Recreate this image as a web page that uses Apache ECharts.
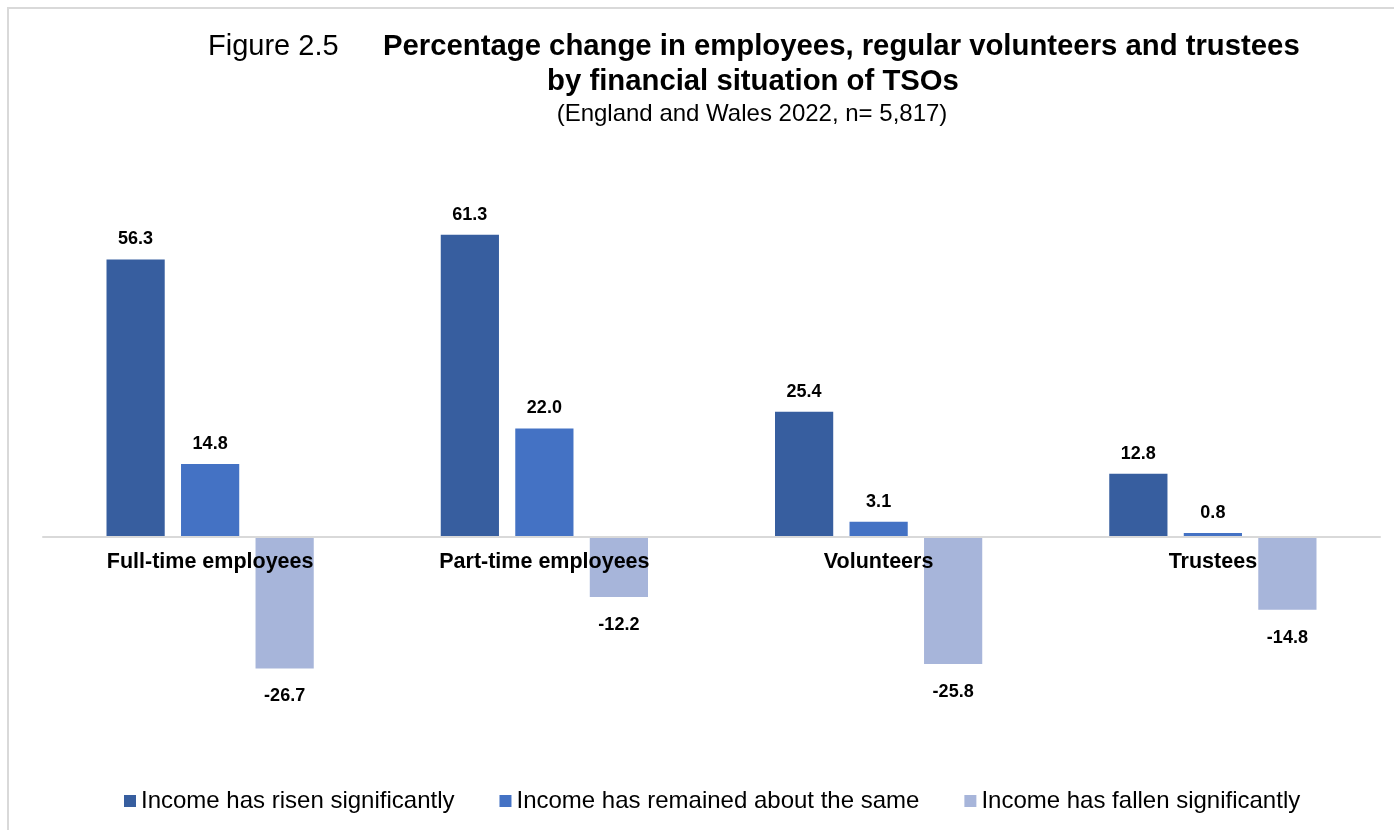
<!DOCTYPE html>
<html>
<head>
<meta charset="utf-8">
<title>Figure 2.5</title>
<script src="https://cdn.jsdelivr.net/npm/echarts@6/dist/echarts.min.js"></script>
<style>
	html, body { margin: 0; padding: 0; background: #fff; }
	#chart { width: 1394px; height: 830px; }
</style>
</head>
<body>
<div id="chart"></div>
<script>
	// data
	const categories = ['Full-time employees', 'Part-time employees', 'Volunteers', 'Trustees']
	const seriesNames = ['Income has risen significantly', 'Income has remained about the same', 'Income has fallen significantly']
	const risen = [56.3, 61.3, 25.4, 12.8]
	const same = [14.8, 22.0, 3.1, 0.8]
	const fallen = [-26.7, -12.2, -25.8, -14.8]
	const colors = ['#375E9F', '#4472C4', '#A7B5DA']

	const font = '"Liberation Sans", Arial, sans-serif'

	// put label above positive bars, below negative ones
	const toItems = (arr) => arr.map((v) => ({
		value: v,
		label: v < 0 ? { position: 'bottom', distance: 19 } : { position: 'top', distance: 11 }
	}))

	const makeSeries = (name, arr, i) => ({
		name: name,
		type: 'bar',
		data: toItems(arr),
		barCategoryGap: '38%',
		barGap: '28%',
		itemStyle: { color: colors[i] },
		label: {
			show: true,
			formatter: (p) => p.value.toFixed(1),
			fontFamily: font,
			fontWeight: 'bold',
			fontSize: 18,
			color: '#000'
		}
	})

	const myChart = echarts.init(document.getElementById('chart'), null, { renderer: 'canvas' })
	const option = {
		animation: false,
		backgroundColor: '#fff',
		color: colors,
		graphic: [
			{
				type: 'rect',
				shape: { x: 8, y: 8, width: 1400, height: 840 },
				style: { fill: 'none', stroke: '#d9d9d9', lineWidth: 2 },
				silent: true
			}
		],
		title: [
			{
				text: 'Figure 2.5',
				left: 203,
				top: 27,
				textStyle: { fontFamily: font, fontWeight: 'normal', fontSize: 29, color: '#000' }
			},
			{
				text: 'Percentage change in employees, regular volunteers and trustees',
				left: 378,
				top: 27,
				textStyle: { fontFamily: font, fontWeight: 'bold', fontSize: 29.3, color: '#000' }
			},
			{
				text: 'by financial situation of TSOs',
				left: 748,
				textAlign: 'center',
				top: 62,
				textStyle: { fontFamily: font, fontWeight: 'bold', fontSize: 29.3, color: '#000' }
			},
			{
				text: '(England and Wales 2022, n= 5,817)',
				left: 747,
				textAlign: 'center',
				top: 97,
				textStyle: { fontFamily: font, fontWeight: 'normal', fontSize: 24, color: '#000' }
			}
		],
		legend: {
			data: seriesNames,
			left: 119,
			top: 784,
			icon: 'rect',
			itemWidth: 12,
			itemHeight: 12,
			itemGap: 45,
			textStyle: { fontFamily: font, fontSize: 24, color: '#000' }
		},
		grid: {
			left: 43,
			right: 14,
			top: 192,
			bottom: 96
		},
		xAxis: {
			type: 'category',
			data: categories,
			z: 5,
			offset: -197,
			axisLine: { onZero: false, lineStyle: { color: '#d9d9d9', width: 2 } },
			axisTick: { show: false },
			axisLabel: {
				margin: 14,
				interval: 0,
				fontFamily: font,
				fontWeight: 'bold',
				fontSize: 21.5,
				color: '#000'
			}
		},
		yAxis: {
			type: 'value',
			min: -40,
			max: 70,
			show: false,
			splitLine: { show: false }
		},
		series: [
			makeSeries(seriesNames[0], risen, 0),
			makeSeries(seriesNames[1], same, 1),
			makeSeries(seriesNames[2], fallen, 2)
		]
	}
	myChart.setOption(option)
</script>
</body>
</html>
